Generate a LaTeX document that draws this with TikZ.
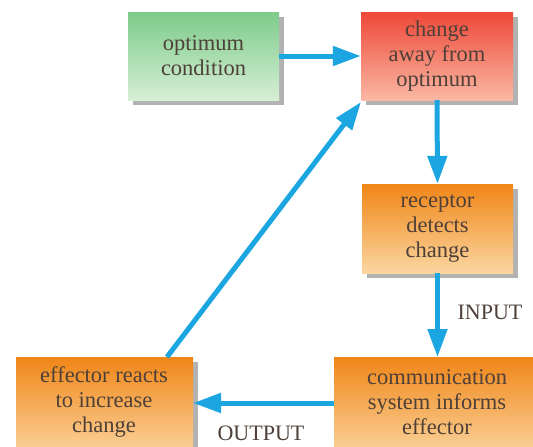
\documentclass[tikz,border=0pt]{standalone}
\usepackage{fontspec}
\setmainfont{Liberation Serif}
\usetikzlibrary{arrows.meta,shadows}
\definecolor{txt}{HTML}{4E4038}
\definecolor{arr}{HTML}{1BA6E1}
\begin{document}
\begin{tikzpicture}[x=1pt,y=-1pt,
  box/.style={minimum width=#1, draw=none, align=center, text=txt, font=\fontsize{22.5}{25}\selectfont,
    drop shadow={shadow xshift=5pt, shadow yshift=-5pt, fill=black!30, opacity=1}},
  flow/.style={draw=arr, line width=5pt, -{Triangle[length=28pt,width=19pt]}},
  boxtext/.style={text=txt, font=\fontsize{22.5}{25}\selectfont, align=center},
  lbl/.style={text=txt, font=\fontsize{22}{24}\selectfont}]
\useasboundingbox (0,0) rectangle (533,447);
\node[box=151pt, minimum height=88pt, top color={rgb,255:red,125;green,203;blue,138}, bottom color={rgb,255:red,214;green,239;blue,213}] (opt) at (203.5,56) {optimum\\condition};
\node[box=152pt, minimum height=88pt, top color={rgb,255:red,238;green,72;blue,56}, bottom color={rgb,255:red,250;green,184;blue,164}] (chg) at (437,56) {change\\away from\\optimum};
\node[box=151pt, minimum height=89pt, top color={rgb,255:red,240;green,134;blue,24}, bottom color={rgb,255:red,251;green,214;blue,160}] (rec) at (437.5,228.5) {receptor\\detects\\change};
\node[box=206pt, minimum height=100pt, anchor=north west, top color={rgb,255:red,240;green,134;blue,24}, bottom color={rgb,255:red,251;green,214;blue,160}, inner sep=0pt] (com) at (334,357) {};
\node[boxtext] (comt) at (437,402) {communication\\system informs\\effector};
\node[box=177pt, minimum height=100pt, anchor=north west, top color={rgb,255:red,240;green,134;blue,24}, bottom color={rgb,255:red,251;green,214;blue,160}, inner sep=0pt] (eff) at (16,357) {};
\node[boxtext] (efft) at (104,402) {effector reacts\\to increase\\change};
\coordinate (effr) at (193,403);
\coordinate (comr) at (334,403);
\coordinate (efftop) at (167,357);
\coordinate (chgc) at (361,102);
\draw[flow] (opt.east) -- (chg.west);
\draw[flow] (chg.south) -- (rec.north);
\draw[flow] (rec.south) -- (rec.south |- com.north);
\draw[flow] (comr) -- (effr);
\draw[flow] (efftop) -- (chgc);
\node[lbl] (in) at (490,312) {INPUT};
\node[lbl] (out) at (261,433) {OUTPUT};
\end{tikzpicture}
\end{document}
